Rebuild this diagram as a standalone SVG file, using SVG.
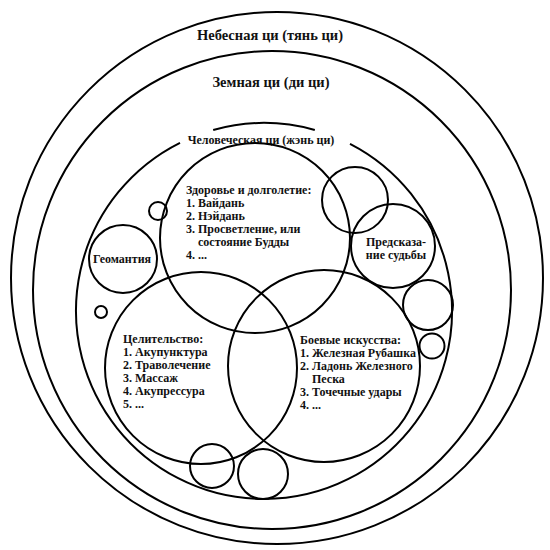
<svg xmlns="http://www.w3.org/2000/svg" width="550" height="550" viewBox="0 0 550 550">
<style>
.c{fill:none;stroke:#000;stroke-width:2}
text{font-family:"Liberation Serif","Times New Roman",serif;font-weight:bold;fill:#111}
.big{font-size:14.5px}
.t{font-size:12px}
</style>
<rect width="550" height="550" fill="#fff"/>
<g id="heavenly">
<circle class="c" cx="277" cy="278" r="266"/>
<text class="big" x="270" y="40" text-anchor="middle">Небесная ци (тянь ци)</text>
</g>
<g id="earthly">
<circle class="c" cx="272" cy="290" r="239"/>
<text class="big" x="271" y="87" text-anchor="middle">Земная ци (ди ци)</text>
</g>
<g id="human">
<path class="c" d="M 213.2 130 A 188 188 0 0 1 314.8 130"/>
<path class="c" d="M 350 143.8 A 188 188 0 1 1 180 142.8"/>
<text class="t" x="261" y="144" text-anchor="middle">Человеческая ци (жэнь ци)</text>
</g>
<g id="health">
<circle class="c" cx="255" cy="238" r="95"/>
<text class="t" x="186" y="194">Здоровье и долголетие:</text>
<text class="t" x="186" y="207">1. Вайдань</text>
<text class="t" x="186" y="220">2. Нэйдань</text>
<text class="t" x="186" y="233">3. Просветление, или</text>
<text class="t" x="198" y="246">состояние Будды</text>
<text class="t" x="186" y="259">4. ...</text>
</g>
<g id="healing">
<circle class="c" cx="201" cy="368" r="96"/>
<text class="t" x="123" y="343">Целительство:</text>
<text class="t" x="123" y="356">1. Акупунктура</text>
<text class="t" x="123" y="369">2. Траволечение</text>
<text class="t" x="123" y="382">3. Массаж</text>
<text class="t" x="123" y="395">4. Акупрессура</text>
<text class="t" x="123" y="408">5. ...</text>
</g>
<g id="martial">
<circle class="c" cx="324" cy="366" r="96"/>
<text class="t" x="300" y="344">Боевые искусства:</text>
<text class="t" x="300" y="357">1. Железная Рубашка</text>
<text class="t" x="300" y="370">2. Ладонь Железного</text>
<text class="t" x="312" y="383">Песка</text>
<text class="t" x="300" y="396">3. Точечные удары</text>
<text class="t" x="300" y="409">4. ...</text>
</g>
<g id="geomancy">
<circle class="c" cx="123" cy="259" r="34"/>
<text class="t" x="122" y="263" text-anchor="middle">Геомантия</text>
</g>
<g id="fortune">
<circle class="c" cx="393" cy="246" r="42"/>
<text class="t" x="396" y="246" text-anchor="middle">Предсказа-</text>
<text class="t" x="396" y="259" text-anchor="middle">ние судьбы</text>
</g>
<g id="circle-top-right"><circle class="c" cx="355" cy="200" r="33"/></g>
<g id="circle-right"><circle class="c" cx="428" cy="305" r="25"/></g>
<g id="circle-right-small"><circle class="c" cx="432" cy="346" r="12.5"/></g>
<g id="circle-bottom-left"><circle class="c" cx="212" cy="466" r="22"/></g>
<g id="circle-bottom-right"><circle class="c" cx="263" cy="474" r="25"/></g>
<g id="circle-small-top-left"><circle class="c" cx="158" cy="211" r="9"/></g>
<g id="circle-small-left"><circle class="c" cx="101" cy="312" r="6"/></g>
<g id="connectors"></g>
</svg>
